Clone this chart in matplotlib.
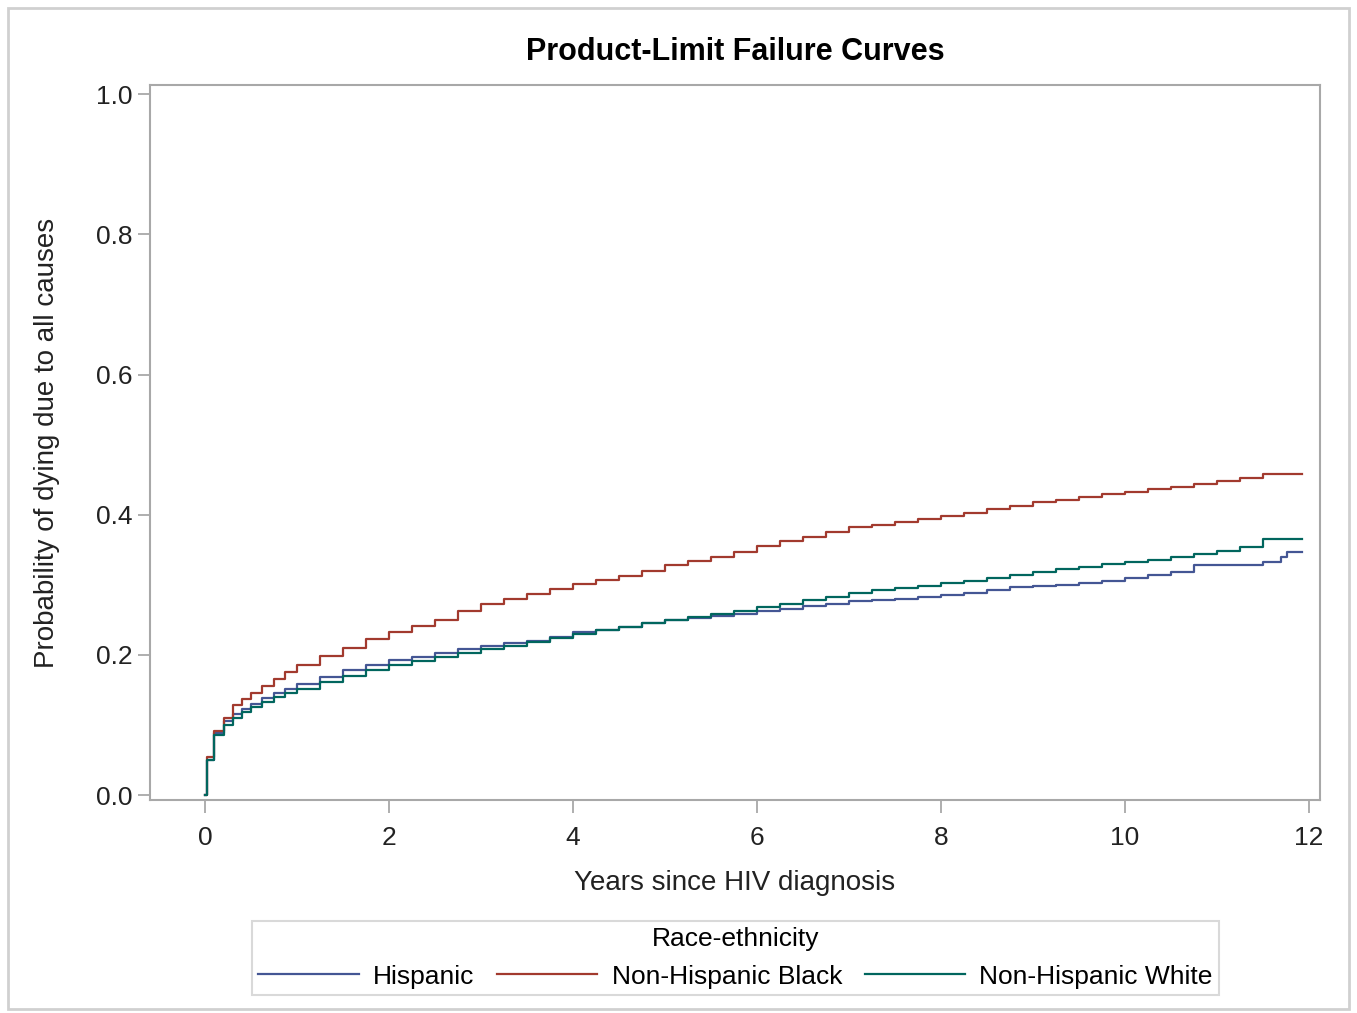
import numpy as np
import matplotlib.pyplot as plt
from matplotlib.patches import Rectangle

plt.rcParams['font.family'] = ['Liberation Sans', 'DejaVu Sans']

# years since diagnosis and cumulative failure probability
years = [0, 0.02, 0.1, 0.2, 0.3, 0.4, 0.5, 0.62, 0.75, 0.87, 1.0, 1.25, 1.5, 1.75, 2.0,
         2.25, 2.5, 2.75, 3.0, 3.25, 3.5, 3.75, 4.0, 4.25, 4.5, 4.75, 5.0, 5.25, 5.5,
         5.75, 6.0, 6.25, 6.5, 6.75, 7.0, 7.25, 7.5, 7.75, 8.0, 8.25, 8.5, 8.75, 9.0,
         9.25, 9.5, 9.75, 10.0, 10.25, 10.5, 10.75, 11.0, 11.25, 11.5, 11.7, 11.76, 11.93]

hispanic = [0, 0.050, 0.088, 0.105, 0.115, 0.123, 0.130, 0.138, 0.145, 0.152, 0.158,
            0.168, 0.178, 0.185, 0.192, 0.197, 0.202, 0.208, 0.213, 0.217, 0.220, 0.226,
            0.232, 0.236, 0.240, 0.245, 0.250, 0.253, 0.256, 0.259, 0.262, 0.266, 0.270,
            0.273, 0.277, 0.279, 0.280, 0.282, 0.285, 0.289, 0.292, 0.297, 0.298, 0.300,
            0.302, 0.306, 0.310, 0.314, 0.318, 0.328, 0.328, 0.328, 0.333, 0.340, 0.347,
            0.347]

black = [0, 0.055, 0.091, 0.110, 0.128, 0.137, 0.145, 0.156, 0.165, 0.176, 0.185,
         0.198, 0.210, 0.222, 0.233, 0.241, 0.250, 0.262, 0.272, 0.280, 0.287, 0.294,
         0.301, 0.307, 0.313, 0.320, 0.328, 0.334, 0.340, 0.347, 0.355, 0.362, 0.368,
         0.375, 0.382, 0.386, 0.390, 0.394, 0.398, 0.403, 0.408, 0.413, 0.418, 0.421,
         0.425, 0.429, 0.433, 0.437, 0.440, 0.444, 0.448, 0.452, 0.458, 0.458, 0.458,
         0.458]

white = [0, 0.050, 0.085, 0.100, 0.110, 0.118, 0.125, 0.133, 0.140, 0.146, 0.152,
         0.161, 0.170, 0.178, 0.185, 0.191, 0.197, 0.203, 0.208, 0.213, 0.218, 0.224,
         0.230, 0.235, 0.240, 0.245, 0.250, 0.254, 0.258, 0.263, 0.268, 0.273, 0.278,
         0.283, 0.288, 0.292, 0.295, 0.298, 0.302, 0.306, 0.310, 0.314, 0.318, 0.322,
         0.325, 0.329, 0.333, 0.336, 0.340, 0.344, 0.348, 0.354, 0.365, 0.365, 0.365,
         0.365]

groups = ["Hispanic", "Non-Hispanic Black", "Non-Hispanic White"]
colors = ["#445694", "#A23A2E", "#01665E"]

fig = plt.figure(figsize=(13.57, 10.13), dpi=100)
ax = fig.add_axes([0.1105, 0.2103, 0.8622, 0.7057])

for vals, name, c in zip([hispanic, black, white], groups, colors):
    ax.plot(years, vals, drawstyle='steps-post', color=c, lw=1.6, label=name)

ax.set_xlim(-0.6, 12.12)
ax.set_ylim(-0.007, 1.013)
ax.set_xticks(np.arange(0, 13, 2))
ax.set_yticks(np.arange(0, 1.01, 0.2))
ax.set_yticklabels([f"{v:.1f}" for v in np.arange(0, 1.01, 0.2)])
for s in ax.spines.values():
    s.set_color('#a8a8a8')
    s.set_linewidth(1.5)
ax.tick_params(colors='#a8a8a8', labelcolor='#222222', labelsize=19, length=9, width=1.3)
ax.tick_params(axis='x', pad=10)

ax.set_xlabel("Years since HIV diagnosis", fontsize=20, color='#222222', labelpad=14)
ax.set_ylabel("Probability of dying due to all causes", fontsize=20, color='#222222', labelpad=26)
ax.set_title("Product-Limit Failure Curves", fontsize=22, fontweight='bold', pad=18)

leg = fig.legend(loc='center', bbox_to_anchor=(0.542, 0.0543), ncol=3, title="Race-ethnicity",
                 fontsize=19, title_fontsize=19, frameon=True, fancybox=False,
                 edgecolor='#d0d0d0', handlelength=3.8, columnspacing=0.85, handletextpad=0.55,
                 borderpad=0.25)
leg.get_frame().set_linewidth(1.5)

# outer border of the graph
fig.patches.append(Rectangle((0.006, 0.004), 0.988, 0.988, transform=fig.transFigure,
                             fill=False, edgecolor='#d0d0d0', lw=2))

fig.savefig("out.png", dpi=100)
